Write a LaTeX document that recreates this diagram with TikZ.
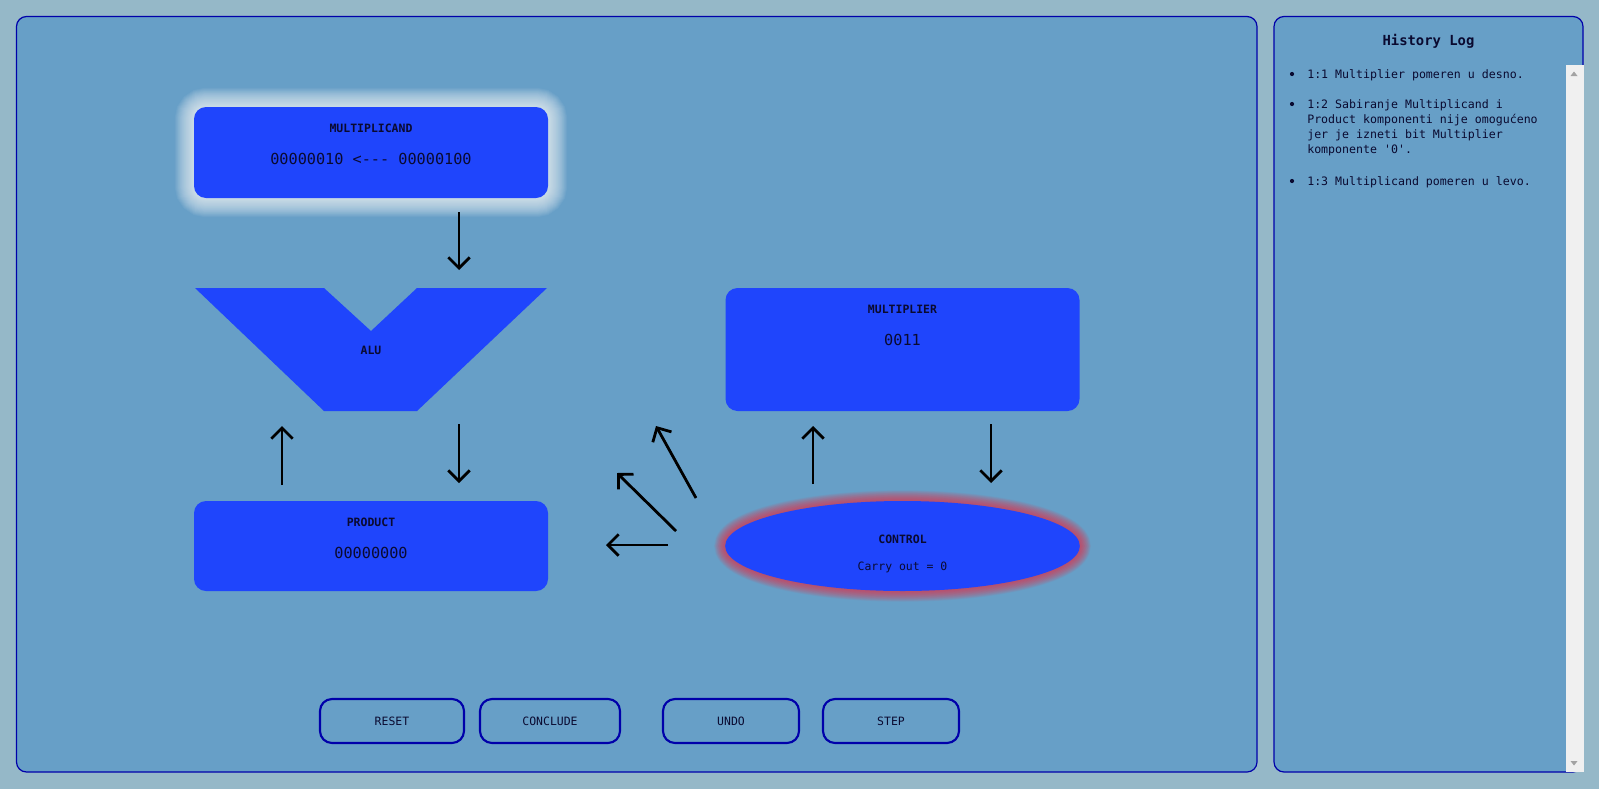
\documentclass[tikz,border=0pt]{standalone}
\usepackage{fontspec}
\setmonofont{DejaVu Sans Mono}
\usetikzlibrary{arrows.meta,shapes.geometric}
\definecolor{outerbg}{HTML}{95B8C8}
\definecolor{panelbg}{HTML}{679FC7}
\definecolor{boxblue}{HTML}{1F45FC}
\definecolor{borderblue}{HTML}{0000AA}
\definecolor{txt}{HTML}{0A0A30}
\definecolor{scrollbg}{HTML}{F0F0F0}
\definecolor{scrollarrow}{HTML}{A3A3A3}
\definecolor{glowred}{HTML}{F02840}
\tikzset{
  panel/.style={draw=borderblue, line width=0.9pt, fill=panelbg, rounded corners=7.5pt},
  unitbox/.style={rectangle, fill=boxblue, rounded corners=9pt, minimum width=265.5pt, inner sep=0pt},
  ctrlshape/.style={ellipse, fill=boxblue, minimum width=266pt, minimum height=67.5pt, inner sep=0pt},
  ttl/.style={font=\ttfamily\bfseries\fontsize{8.6}{10}\selectfont, text=txt},
  val/.style={font=\ttfamily\fontsize{11.4}{13}\selectfont, text=txt},
  small/.style={font=\ttfamily\fontsize{8.6}{10}\selectfont, text=txt},
  logtxt/.style={font=\ttfamily\fontsize{8.7}{10}\selectfont, text=txt, anchor=base west, inner sep=0pt},
  btn/.style={rectangle, draw=borderblue, line width=1.6pt, rounded corners=9pt, minimum height=33pt, inner sep=0pt, font=\ttfamily\fontsize{8.6}{10}\selectfont, text=txt},
  flow/.style={draw=black, line width=2.1pt, -{Straight Barb[length=8pt, width=16pt, line width=2.1pt]}},
}
\begin{document}
\begin{tikzpicture}[x=0.75pt, y=-0.75pt]
\useasboundingbox (0,0) rectangle (1599,789);
\fill[outerbg] (0,0) rectangle (1599,789);

% panels
\path[panel] (16.5,16.5) rectangle (1257,772);
\path[panel] (1274,16.5) rectangle (1583,772);

% scrollbar
\fill[scrollbg] (1566,65) rectangle (1583.5,772);
\fill[scrollarrow] (1570.5,76) -- (1577.5,76) -- (1574,71.5) -- cycle;
\fill[scrollarrow] (1570.5,761) -- (1577.5,761) -- (1574,765.5) -- cycle;

% history log
\node[font=\ttfamily\bfseries\fontsize{10.4}{12}\selectfont, text=txt] (logtitle) at (1428.5,41.5) {History Log};
\fill[txt] (1292,74) circle [radius=2.1];
\node[logtxt] (l1) at (1307,78.5) {1:1 Multiplier pomeren u desno.};
\fill[txt] (1292,104) circle [radius=2.1];
\node[logtxt] (l2a) at (1307,108.5) {1:2 Sabiranje Multiplicand i};
\node[logtxt] (l2b) at (1307,123.5) {Product komponenti nije omogućeno};
\node[logtxt] (l2c) at (1307,138.5) {jer je izneti bit Multiplier};
\node[logtxt] (l2d) at (1307,153.5) {komponente '0'.};
\fill[txt] (1292,181) circle [radius=2.1];
\node[logtxt] (l3) at (1307,185.5) {1:3 Multiplicand pomeren u levo.};

% multiplicand glow
\foreach \w in {1,...,22}{
  \draw[white, opacity=0.05, line width=\w*1.3pt, rounded corners=9pt] (194,107) rectangle (548,198);
}
\node[unitbox, minimum height=68.25pt] (mcand) at (371,152.5) {};
\node[ttl] (mcandt) at (371,128) {MULTIPLICAND};
\node[val] (mcandv) at (371,159) {00000010 <--- 00000100};

% ALU
\fill[boxblue] (195,288) -- (324,288) -- (371,331) -- (417,288) -- (547,288) -- (417,411) -- (324,411) -- cycle;
\node[ttl] (alu) at (371,350) {ALU};

% product
\node[unitbox, minimum height=67.5pt] (prod) at (371,546) {};
\node[ttl] (prodt) at (371,522) {PRODUCT};
\node[val] (prodv) at (371,553) {00000000};

% multiplier
\node[unitbox, minimum height=92.25pt] (mplier) at (902.5,349.5) {};
\node[ttl] (mpliert) at (902.5,309) {MULTIPLIER};
\node[val] (mplierv) at (902.5,339.5) {0011};

% control glow
\foreach \w in {1,...,16}{
  \draw[glowred, opacity=0.06, line width=\w*1.0pt] (902.5,546) ellipse [x radius=177.5, y radius=45];
}
\node[ctrlshape] (ctrl) at (902.5,546) {};
\node[ttl] (ctrlt) at (902.5,539) {CONTROL};
\node[small] (ctrlv) at (902.5,567.5) {Carry out = 0};

% arrow end points
\coordinate (a1s) at (459,212); \coordinate (a1e) at (459,270);
\coordinate (a2s) at (282,485); \coordinate (a2e) at (282,426);
\coordinate (a3s) at (459,424); \coordinate (a3e) at (459,483);
\coordinate (a4s) at (813,484); \coordinate (a4e) at (813,426);
\coordinate (a5s) at (991,424); \coordinate (a5e) at (991,483);
\coordinate (d1s) at (696,498); \coordinate (d1e) at (656,426);
\coordinate (d2s) at (676,531); \coordinate (d2e) at (617,473);
\coordinate (d3s) at (668,545); \coordinate (d3e) at (606,545);

\draw[flow] (a1s) -- (a1e);
\draw[flow] (a2s) -- (a2e);
\draw[flow] (a3s) -- (a3e);
\draw[flow] (a4s) -- (a4e);
\draw[flow] (a5s) -- (a5e);
\draw[flow] (d1s) -- (d1e);
\draw[flow] (d2s) -- (d2e);
\draw[flow] (d3s) -- (d3e);

% buttons
\node[btn, minimum width=108pt] (reset) at (392,721) {RESET};
\node[btn, minimum width=105pt] (conclude) at (550,721) {CONCLUDE};
\node[btn, minimum width=102pt] (undo) at (731,721) {UNDO};
\node[btn, minimum width=102pt] (stepbtn) at (891,721) {STEP};
\end{tikzpicture}
\end{document}
